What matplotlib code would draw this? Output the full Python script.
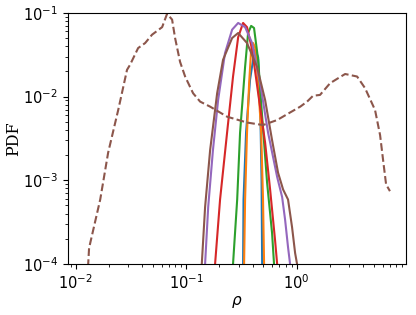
import numpy as np
import matplotlib
matplotlib.use("Agg")
import matplotlib.pyplot as plt

# solid curves (rho, log10 PDF)
blue_x = [0.325, 0.328, 0.331, 0.349, 0.379, 0.404, 0.421, 0.449, 0.468, 0.482, 0.488, 0.490]
blue_y = [-4.3, -4.0, -3.23, -2.43, -1.80, -1.56, -1.44, -1.53, -2.04, -3.0, -4.0, -4.3]

orange_x = [0.332, 0.335, 0.342, 0.356, 0.372, 0.388, 0.404, 0.421, 0.449, 0.478, 0.497, 0.508, 0.512]
orange_y = [-4.3, -4.0, -3.23, -2.43, -1.84, -1.44, -1.36, -1.41, -1.84, -2.43, -3.23, -4.0, -4.3]

green_x = [0.262, 0.266, 0.29, 0.308, 0.342, 0.364, 0.388, 0.412, 0.449, 0.488, 0.541, 0.60, 0.625, 0.635]
green_y = [-4.3, -4.0, -3.23, -2.43, -1.645, -1.24, -1.155, -1.18, -1.56, -2.24, -3.03, -3.63, -4.0, -4.3]

red_x = [0.178, 0.183, 0.203, 0.235, 0.266, 0.296, 0.328, 0.356, 0.396, 0.449, 0.519, 0.576, 0.638, 0.667, 0.68]
red_y = [-4.3, -4.0, -3.23, -2.43, -1.76, -1.29, -1.12, -1.17, -1.44, -1.96, -2.55, -3.11, -3.71, -4.0, -4.3]

purple_x = [0.145, 0.1486, 0.1585, 0.175, 0.195, 0.225, 0.261, 0.296, 0.342, 0.396, 0.468,
            0.552, 0.667, 0.74, 0.787, 0.837, 0.873, 0.885]
purple_y = [-4.3, -4.0, -3.32, -2.64, -2.04, -1.48, -1.20, -1.12, -1.17, -1.36, -1.84,
            -2.43, -2.96, -3.20, -3.47, -3.80, -4.0, -4.3]

brown_x = [0.135, 0.1387, 0.1486, 0.165, 0.191, 0.216, 0.261, 0.296, 0.356, 0.439, 0.519,
           0.60, 0.68, 0.755, 0.837, 0.91, 0.97, 1.01, 1.02]
brown_y = [-4.3, -4.0, -3.32, -2.64, -1.96, -1.56, -1.30, -1.24, -1.36, -1.645, -2.04,
           -2.52, -2.91, -3.11, -3.23, -3.56, -3.87, -4.0, -4.3]

# dashed curve
dash_x = [0.0129, 0.0130, 0.01324, 0.0167, 0.0197, 0.0243, 0.0292, 0.0311, 0.0368, 0.0426,
          0.0492, 0.0607, 0.0673, 0.0747, 0.0795, 0.0882, 0.098, 0.1157, 0.134, 0.165,
          0.235, 0.356, 0.497, 0.667, 0.873, 1.08, 1.245, 1.41, 1.63, 2.01, 2.38, 2.75,
          3.53, 4.17, 5.13, 5.70, 6.07, 6.46, 7.0]
dash_y = [-4.3, -4.0, -3.81, -3.23, -2.67, -2.16, -1.68, -1.62, -1.42, -1.36,
          -1.26, -1.17, -1.01, -1.08, -1.30, -1.585, -1.76, -1.96, -2.06, -2.12,
          -2.24, -2.31, -2.34, -2.28, -2.19, -2.12, -2.06, -1.99, -1.98, -1.84, -1.78, -1.73,
          -1.76, -1.90, -2.16, -2.46, -2.76, -3.05, -3.13]

solid = [
    (blue_x, blue_y, "tab:blue"),
    (orange_x, orange_y, "tab:orange"),
    (green_x, green_y, "tab:green"),
    (red_x, red_y, "tab:red"),
    (purple_x, purple_y, "tab:purple"),
    (brown_x, brown_y, "tab:brown"),
]

fig = plt.figure(figsize=(4.16, 3.15), dpi=100)
ax = fig.add_axes([0.163, 0.162, 0.812, 0.797])

for xs, ys, c in solid:
    ax.plot(xs, 10 ** np.array(ys), color=c, lw=1.5)
ax.plot(dash_x, 10 ** np.array(dash_y), color="tab:brown", lw=1.5, ls="--")

ax.set_xscale("log")
ax.set_yscale("log")
ax.set_xlim(0.0085, 9.7)
ax.set_ylim(1e-4, 1e-1)
ax.tick_params(labelsize=10.5)
ax.set_xlabel(r"$\rho$", fontsize=11)
ax.set_ylabel("PDF", fontsize=11.5, family="serif")
ax.xaxis.set_label_coords(0.5, -0.12)
ax.yaxis.set_label_coords(-0.135, 0.5)

fig.savefig("out.png", dpi=100)
